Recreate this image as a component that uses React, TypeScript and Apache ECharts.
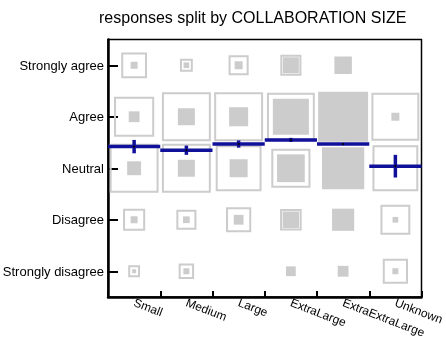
import React, { useEffect, useRef } from "react";
import * as echarts from "echarts";

const sizes = ["Small", "Medium", "Large", "ExtraLarge", "ExtraExtraLarge", "Unknown"];
const responses = ["Strongly disagree", "Disagree", "Neutral", "Agree", "Strongly agree"];

// outer (hollow) square size as fraction of the cell, per response row, per size
const outerStronglyDisagree = [0.23, 0.3, 0, 0, 0, 0.49];
const outerDisagree = [0.43, 0.39, 0.49, 0.42, 0, 0.58];
const outerNeutral = [0.95, 0.95, 0.89, 0.76, 0, 0.89];
const outerAgree = [0.78, 0.95, 0.95, 0.93, 0, 0.93];
const outerStronglyAgree = [0.5, 0.25, 0.39, 0.41, 0, 0];

// inner (filled) square size as fraction of the cell
const innerStronglyDisagree = [0.078, 0.117, 0, 0.19, 0.21, 0.117];
const innerDisagree = [0.136, 0.13, 0.19, 0.32, 0.43, 0.11];
const innerNeutral = [0.27, 0.33, 0.35, 0.54, 0.82, 0];
const innerAgree = [0.21, 0.33, 0.37, 0.7, 0.97, 0.155];
const innerStronglyAgree = [0.136, 0.11, 0.155, 0.31, 0.34, 0];

// mean response (1 = Strongly disagree ... 5 = Strongly agree) and error
const meanResponse = [3.42, 3.35, 3.47, 3.55, 3.47, 3.04];
const meanError = [0.13, 0.09, 0.07, 0.04, 0.02, 0.22];

const outerRows = [outerStronglyDisagree, outerDisagree, outerNeutral, outerAgree, outerStronglyAgree];
const innerRows = [innerStronglyDisagree, innerDisagree, innerNeutral, innerAgree, innerStronglyAgree];

const FONT = "'Liberation Sans', Arial, Helvetica, sans-serif";
const GRAY = "#cccccc";
const BLUE = "#10109a";

export default function App() {
  const ref = useRef<HTMLDivElement>(null);
  useEffect(() => {
    if (!ref.current) return;
    const chart = echarts.init(ref.current, null, { renderer: "svg" });

    const squareData: number[][] = [];
    outerRows.forEach((row, r) => {
      row.forEach((o, c) => {
        squareData.push([c, r, o, innerRows[r][c]]);
      });
    });
    const meanData = meanResponse.map((m, c) => [c, 0, m, meanError[c]]);

    chart.setOption({
      animation: false,
      title: {
        text: "responses split by COLLABORATION SIZE",
        left: 99,
        top: 9,
        padding: 0,
        textStyle: { fontFamily: FONT, fontSize: 16, fontWeight: "normal", color: "#000" },
      },
      grid: {
        left: 108,
        right: 24.5,
        top: 39.5,
        bottom: 42,
        show: true,
        borderColor: "#000",
        borderWidth: 1.5,
        containLabel: false,
        outerBoundsMode: "none",
      },
      xAxis: {
        type: "category",
        data: sizes,
        boundaryGap: true,
        axisLine: { show: true, lineStyle: { color: "#000", width: 2.5 } },
        axisTick: { show: true, inside: true, length: 6, lineStyle: { color: "#000", width: 2 } },
        axisLabel: {
          rotate: -21,
          margin: 5,
          fontSize: 12,
          fontFamily: FONT,
          color: "#000",
          interval: 0,
          hideOverlap: false,
        },
        splitLine: { show: false },
      },
      yAxis: {
        type: "category",
        data: responses,
        boundaryGap: true,
        axisLine: { show: true, lineStyle: { color: "#000", width: 2.5 } },
        axisTick: { show: true, inside: true, alignWithLabel: true, length: 10, lineStyle: { color: "#000", width: 2 } },
        axisLabel: { margin: 4, fontSize: 13, fontFamily: FONT, color: "#000", interval: 0 },
        splitLine: { show: false },
      },
      series: [
        {
          type: "custom",
          data: squareData,
          encode: { x: 0, y: 1 },
          z: 2,
          renderItem: (params: any, api: any) => {
            const c = api.value(0);
            const r = api.value(1);
            const o = api.value(2);
            const i = api.value(3);
            const p = api.coord([c, r]);
            const sz = api.size([1, 1]);
            const cell = Math.min(sz[0], sz[1]);
            const children: any[] = [];
            if (o > 0) {
              const S = o * cell;
              children.push({
                type: "rect",
                shape: { x: p[0] - S / 2 + 1, y: p[1] - S / 2 + 1, width: S - 2, height: S - 2 },
                style: { fill: "none", stroke: GRAY, lineWidth: 2 },
              });
            }
            if (i > 0) {
              const s = i * cell;
              children.push({
                type: "rect",
                shape: { x: p[0] - s / 2, y: p[1] - s / 2, width: s, height: s },
                style: { fill: GRAY, stroke: "none" },
              });
            }
            return { type: "group", children };
          },
        },
        {
          type: "custom",
          data: meanData,
          encode: { x: 0, y: 1 },
          z: 5,
          renderItem: (params: any, api: any) => {
            const c = api.value(0);
            const m = api.value(2);
            const e = api.value(3);
            const p0 = api.coord([c, 0]);
            const p1 = api.coord([c, 1]);
            const unit = p1[1] - p0[1];
            const w = api.size([1, 0])[0];
            const y = p0[1] + (m - 1) * unit;
            const yTop = p0[1] + (m + e - 1) * unit;
            const yBot = p0[1] + (m - e - 1) * unit;
            return {
              type: "group",
              children: [
                {
                  type: "line",
                  shape: { x1: p0[0] - w / 2, y1: y, x2: p0[0] + w / 2, y2: y },
                  style: { stroke: BLUE, lineWidth: 3.5 },
                },
                {
                  type: "line",
                  shape: { x1: p0[0], y1: yTop, x2: p0[0], y2: yBot },
                  style: { stroke: BLUE, lineWidth: 3.5 },
                },
                {
                  type: "circle",
                  shape: { cx: p0[0], cy: y, r: 1.1 },
                  style: { fill: "#000" },
                },
              ],
            };
          },
        },
      ],
    });
    return () => chart.dispose();
  }, []);
  return <div ref={ref} style={{ position: "fixed", left: 0, top: 0, width: 446, height: 339 }} />;
}
